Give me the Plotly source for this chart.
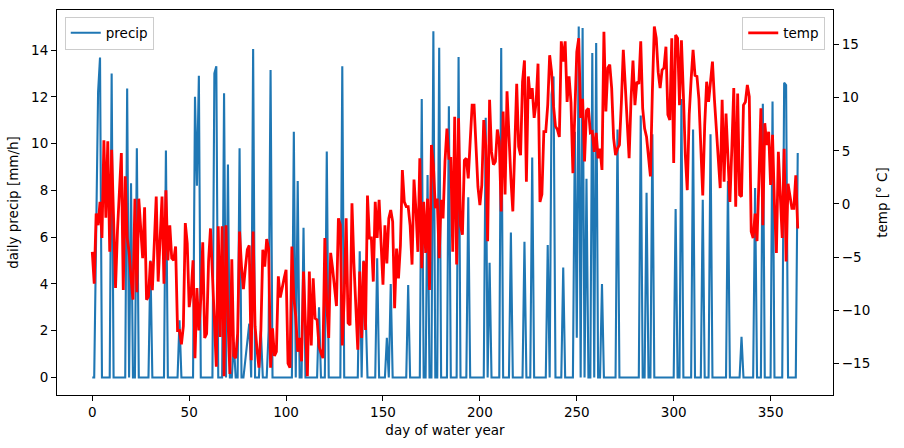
import plotly.graph_objects as go

# day of water year
days = list(range(365))

# daily precipitation [mm/h] (one value per day)
precip = [
    0, 0, 6.1, 12.2, 13.68, 0, 0, 0, 0, 0,
    13.0, 0, 0, 0, 0, 0, 0, 0, 12.35, 0,
    8.3, 0, 0, 9.8, 0, 0, 0, 0, 0, 0,
    5.0, 0, 0, 0, 0, 0, 0, 0, 9.7, 0,
    0, 0, 0, 0, 0, 2.45, 0, 0, 0, 0,
    0, 0, 0, 12.0, 8.2, 12.9, 0, 0, 0, 0,
    0, 0, 0, 13.0, 13.3, 0, 0, 0, 12.15, 0,
    9.1, 0, 0, 1.5, 0, 0, 9.8, 0, 0, 0.8,
    1.5, 2.3, 0, 14.04, 0, 0, 0, 2.0, 0, 0,
    0, 2.0, 13.15, 0, 0, 0, 0, 0, 0, 0,
    0, 0, 0, 0, 10.5, 0, 8.4, 0, 0, 6.4,
    0, 0, 0, 0, 0, 0, 0, 3.0, 0, 0,
    0, 9.66, 0, 0, 0, 0, 0, 0, 0, 13.3,
    0, 0, 0, 0, 0, 0, 0, 0, 5.4, 0,
    5.0, 3.0, 0, 0, 0, 0, 0, 5.1, 0, 0,
    0, 0, 1.7, 0, 4.0, 0, 0, 0, 0, 0,
    0, 0, 0, 3.95, 0, 0, 0, 0, 0, 0,
    11.9, 0, 0, 8.66, 0, 0, 14.8, 0, 0, 14.1,
    0, 0, 0, 0, 11.6, 0, 0, 0, 0, 13.7,
    0, 0, 0, 0, 7.7, 0, 0, 0, 0, 0,
    0, 0, 0, 11.1, 0, 4.9, 0, 0, 0, 0,
    0, 14.08, 0, 0, 0, 0, 6.2, 0, 0, 0,
    0, 0, 0, 5.8, 0, 0, 0, 9.4, 0, 0,
    0, 0, 0, 0, 0, 5.66, 0, 12.1, 12.87, 0,
    0, 0, 0, 4.7, 0, 0, 0, 0, 0, 10.5,
    1.7, 15.0, 0, 14.94, 0, 8.5, 0, 0, 13.87, 0,
    14.3, 0, 0, 4.0, 0, 0, 0, 0, 0, 0,
    0, 10.6, 0, 0, 0, 0, 0, 0, 0, 0,
    0, 0, 0, 11.2, 0, 0, 7.9, 0, 0, 10.4,
    0, 0, 0, 0, 0, 0, 0, 0, 0, 0,
    0, 7.2, 0, 0, 11.9, 0, 0, 0, 0, 0,
    10.6, 0, 0, 0, 0, 7.6, 0, 0, 0, 10.4,
    0, 0, 0, 0, 0, 0, 0, 0, 8.4, 0,
    0, 0, 0, 0, 0, 1.74, 0, 0, 0, 0,
    0, 0, 8.1, 0, 0, 0, 11.7, 0, 0, 0,
    0, 11.8, 0, 0, 0, 0, 0, 12.6, 12.5, 0,
    0, 0, 0, 0, 9.6,
]

# daily temperature [deg C]
temp = [
    -4.5, -7.5, -0.9, -2.0, 0.2, -3.2, 6.0, -1.3, 5.9, -4.5,
    5.1, -1.5, -7.9, -2.5, 2.0, 4.8, -8.1, 2.6, -3.2, -4.5,
    -7.0, -9.0, 0.5, -8.3, 0.5, -2.5, -5.1, -0.3, -9.0, -8.7,
    -5.4, -8.1, -3.5, 0.7, -7.3, -3.0, 0.7, -7.5, 1.3, -5.3,
    -2.0, -5.1, -5.3, -4.0, -11.9, -11.9, -13.2, -11.5, -1.8, -3.7,
    -9.7, -8.4, -5.3, -14.5, -7.9, -11.9, -8.9, -3.6, -12.6, -12.2,
    -5.4, -2.3, -6.2, -10.0, -15.3, -2.1, -12.5, -2.1, -16.2, -2.0,
    -10.7, -16.0, -5.2, -14.3, -14.5, -12.2, -2.6, -5.9, -8.0, -6.0,
    -4.3, -3.9, -14.7, -2.6, -11.5, -13.7, -15.4, -11.9, -4.3, -5.9,
    -3.3, -4.2, -15.4, -11.7, -14.3, -13.9, -6.8, -8.8, -7.8, -7.0,
    -6.2, -15.0, -15.4, -4.0, -8.8, -10.6, -13.9, -12.6, -14.8, -6.35,
    -11.4, -16.2, -6.35, -13.3, -7.0, -10.75, -10.9, -13.4, -14.0, -14.5,
    -3.2, -9.5, -12.6, -4.6, -6.05, -8.0, -9.6, -1.35, -1.97, -13.3,
    -8.8, -1.35, -11.2, -11.4, 0.06, -5.6, -9.5, -13.7, -6.35, -12.6,
    -5.4, -11.85, 0.8, -3.2, -3.2, -7.3, 0.2, -3.2, 0.4, -4.5,
    -7.6, -2.0, -5.6, -1.35, -0.56, -1.66, -9.8, -4.2, -7.0, -3.9,
    3.2, 0.2, -0.25, -0.25, -2.0, -5.7, 2.3, -0.56, -4.5, 4.3,
    -6.05, 0.2, -4.6, 0.5, -8.1, 5.55, 3.7, -0.4, 0.5, -5.1,
    0.4, -1.35, 4.0, 7.1, 4.3, 4.3, -4.5, 8.2, -5.7, 8.06,
    -2.0, -2.9, 4.1, 4.3, 2.4, 5.9, 9.3, 9.3, 5.55, 1.6,
    -0.1, 1.8, 7.9, 5.55, -3.5, 9.8, 4.9, 3.7, 4.0, 7.0,
    5.9, -0.7, 8.7, 0.9, 10.6, 6.2, 2.4, -0.7, 6.5, 11.3,
    5.4, 4.6, 11.5, 13.5, 2.1, 12.0, 9.9, 10.9, 8.1, 9.5,
    13.2, 0.2, 0.9, 6.8, 6.8, 9.3, 14.0, 12.4, 9.2, 7.3,
    7.0, 6.3, 15.3, 13.4, 15.3, 9.6, 12.0, 9.6, 2.9, 9.6,
    14.3, 15.6, 8.1, 9.9, 4.0, 8.8, 9.0, 6.7, 6.8, 4.9,
    6.7, 4.3, 5.2, 3.2, 16.2, 8.7, 12.8, 13.1, 10.9, 6.2,
    4.6, 5.2, 5.55, 9.5, 14.5, 11.2, 7.9, 4.3, 9.9, 13.5,
    9.3, 11.5, 11.3, 15.3, 9.0, 7.1, 6.3, 4.6, 2.6, 10.6,
    16.7, 15.6, 12.4, 10.9, 12.6, 12.8, 14.8, 8.4, 7.9, 15.6,
    3.85, 15.9, 15.6, 9.3, 15.4, 10.3, 4.6, 1.3, 8.4, 11.7,
    14.5, 12.1, 12.0, 9.9, 5.0, 0.8, 7.4, 11.5, 9.6, 11.5,
    13.4, 9.9, 6.8, 4.0, 1.5, 9.8, 2.1, 8.5, 4.0, 0.2,
    5.2, 10.9, -0.25, 10.4, 0.85, 0.7, 9.3, 9.6, 11.2, 10.1,
    -2.6, -3.2, -0.9, -3.5, 2.4, 9.0, -2.0, 7.6, 5.55, 6.8,
    1.8, 6.5, -0.1, -4.6, 4.9, 0.2, -3.2, 5.2, -5.4, 1.9,
    0.85, -0.4, -0.4, 2.7, -2.3,
]

x_ticks = [0, 50, 100, 150, 200, 250, 300, 350]
precip_ticks = [0, 2, 4, 6, 8, 10, 12, 14]
temp_ticks = [-15, -10, -5, 0, 5, 10, 15]

FONT = "DejaVu Sans"
FS = 13.5

fig = go.Figure()
fig.add_trace(go.Scatter(
    x=days, y=precip, mode="lines", name="precip", showlegend=True,
    line=dict(color="#1f77b4", width=2.1), yaxis="y", legend="legend",
))
fig.add_trace(go.Scatter(
    x=days, y=temp, mode="lines", name="temp", showlegend=True,
    line=dict(color="#ff0000", width=2.8), yaxis="y2", legend="legend2",
))

axis_common = dict(
    showgrid=False, zeroline=False, showline=True, linecolor="black",
    linewidth=1.1, ticks="outside", ticklen=5, tickwidth=1.1, tickcolor="black",
    tickfont=dict(family=FONT, size=FS, color="black"),
)

legend_common = dict(
    y=0.983, yanchor="top",
    bgcolor="rgba(255,255,255,0.8)", bordercolor="#cccccc", borderwidth=1,
    font=dict(family=FONT, size=FS, color="black"), itemwidth=30,
    visible=True,
)

fig.update_layout(
    width=904, height=448,
    showlegend=True,
    margin=dict(l=57, r=71, t=10, b=53, autoexpand=False),
    plot_bgcolor="white", paper_bgcolor="white",
    font=dict(family=FONT, size=FS, color="black"),
    xaxis=dict(
        range=[-18.2, 382.2], tickvals=x_ticks, mirror=True,
        title=dict(text="day of water year", standoff=6,
                   font=dict(family=FONT, size=FS)),
        **axis_common,
    ),
    yaxis=dict(
        range=[-0.748, 15.71], tickvals=precip_ticks, mirror=True,
        title=dict(text="daily precip [mm/h]", standoff=9,
                   font=dict(family=FONT, size=FS)),
        **axis_common,
    ),
    yaxis2=dict(
        range=[-17.97, 18.25], tickvals=temp_ticks, overlaying="y", side="right",
        title=dict(text="temp [° C]", standoff=8,
                   font=dict(family=FONT, size=FS)),
        **axis_common,
    ),
    legend=dict(x=0.01, xanchor="left", **legend_common),
    legend2=dict(x=0.99, xanchor="right", **legend_common),
)

fig.write_html("out.html")
